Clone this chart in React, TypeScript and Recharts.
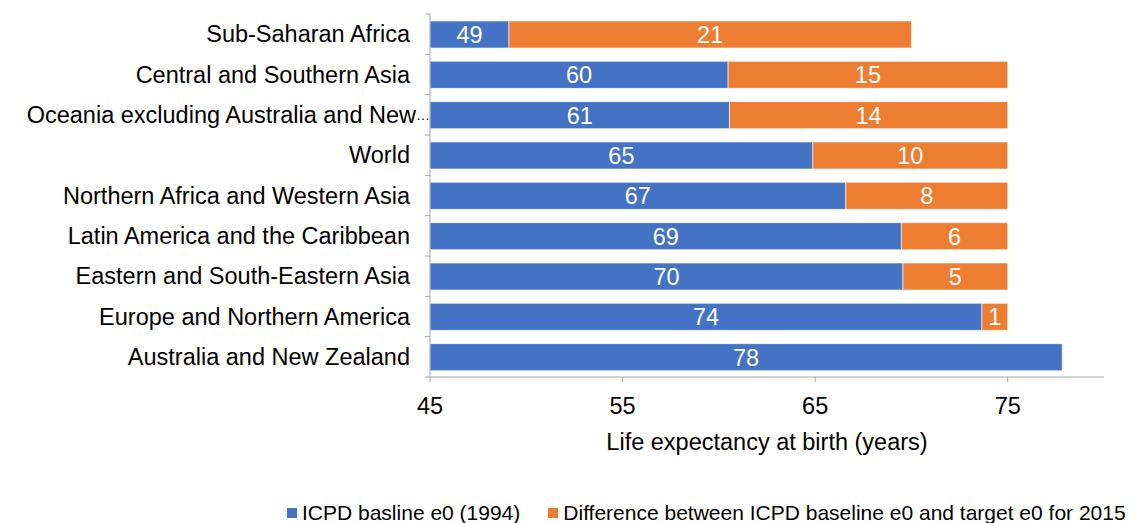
import { BarChart, Bar, XAxis, YAxis, Legend, LabelList } from "recharts";

const regions = [
  "Sub-Saharan Africa",
  "Central and Southern Asia",
  "Oceania excluding Australia and New Zealand",
  "World",
  "Northern Africa and Western Asia",
  "Latin America and the Caribbean",
  "Eastern and South-Eastern Asia",
  "Europe and Northern America",
  "Australia and New Zealand",
];

// ICPD baseline life expectancy (1994)
const baseline = [49.1, 60.48, 60.55, 64.88, 66.59, 69.48, 69.56, 73.66, 77.83];
// gap to the 2015 target (blank for Australia and New Zealand)
const gap = [20.9, 14.52, 14.45, 10.12, 8.41, 5.52, 5.44, 1.34, null];

const xTicks = [45, 55, 65, 75];

const BLUE = "#4472c4";
const ORANGE = "#ed7d31";
const AXIS = "#a6a6a6";
const FONT = "'Liberation Sans', Arial, sans-serif";

const data = regions.map((region, i) => ({
  region,
  baseline: baseline[i],
  gap: gap[i],
}));

const rounded = (v: any) => (v == null ? "" : Math.round(Number(v)));

// category tick: label plus Excel-style tick marks on the band edges
function RegionTick(props: any) {
  const { x, y, payload, index, visibleTicksCount, height } = props;
  const half = payload?.offset || height / visibleTicksCount / 2;
  const axisX = x + 20;
  const name: string = payload.value;
  const long = name.length > 36;
  return (
    <g>
      <line x1={axisX - 5} x2={axisX} y1={y - half} y2={y - half} stroke={AXIS} />
      {index === visibleTicksCount - 1 && (
        <line x1={axisX - 5} x2={axisX} y1={y + half} y2={y + half} stroke={AXIS} />
      )}
      <text
        x={long ? axisX : x}
        y={y}
        textAnchor="end"
        dominantBaseline="central"
        fill="#000"
        fontSize={23.5}
        fontFamily={FONT}
      >
        {long ? name.slice(0, 35) : name}
        {long && <tspan fontSize={14}>…</tspan>}
      </text>
    </g>
  );
}

function LegendBox() {
  const items = [
    { color: BLUE, label: "ICPD basline e0 (1994)" },
    { color: ORANGE, label: "Difference between ICPD baseline e0 and target e0 for 2015" },
  ];
  return (
    <div
      style={{
        display: "flex",
        alignItems: "center",
        height: 20,
        paddingLeft: 287,
        fontFamily: FONT,
        fontSize: 21,
        color: "#000",
        whiteSpace: "nowrap",
      }}
    >
      {items.map((it, i) => (
        <span key={i} style={{ display: "flex", alignItems: "center", marginRight: 28 }}>
          <span style={{ width: 10, height: 10, background: it.color, marginRight: 5 }} />
          {it.label}
        </span>
      ))}
    </div>
  );
}

export default function App() {
  return (
    <div style={{ width: 1137, height: 523, background: "#fff", overflow: "hidden" }}>
      <style>{`body{margin:0}`}</style>
      <BarChart
        width={1137}
        height={523}
        data={data}
        layout="vertical"
        margin={{ top: 14, right: 33, bottom: 48, left: 0 }}
        barSize={27}
        style={{ fontFamily: FONT }}
      >
        <XAxis
          type="number"
          domain={[45, 80]}
          ticks={xTicks}
          allowDataOverflow
          height={78}
          stroke={AXIS}
          tickSize={5}
          tickMargin={15}
          tick={{ fill: "#000", fontSize: 23.5 }}
          label={{
            value: "Life expectancy at birth (years)",
            position: "insideBottom",
            offset: 5,
            fill: "#000",
            fontSize: 23.5,
          }}
        />
        <YAxis
          type="category"
          dataKey="region"
          width={430}
          stroke={AXIS}
          tickLine={false}
          tickSize={6}
          tickMargin={14}
          interval={0}
          tick={<RegionTick />}
        />
        <Legend
          verticalAlign="bottom"
          wrapperStyle={{ left: 0, bottom: 0, width: 1137 }}
          content={() => <LegendBox />}
        />
        <Bar dataKey="baseline" stackId="a" fill={BLUE} stroke="#ffffff" strokeWidth={0.6} isAnimationActive={false}>
          <LabelList dataKey="baseline" position="center" fill="#fff" fontSize={23.5} formatter={rounded} />
        </Bar>
        <Bar dataKey="gap" stackId="a" fill={ORANGE} stroke="#ffffff" strokeWidth={0.6} isAnimationActive={false}>
          <LabelList dataKey="gap" position="center" fill="#fff" fontSize={23.5} formatter={rounded} />
        </Bar>
      </BarChart>
    </div>
  );
}
